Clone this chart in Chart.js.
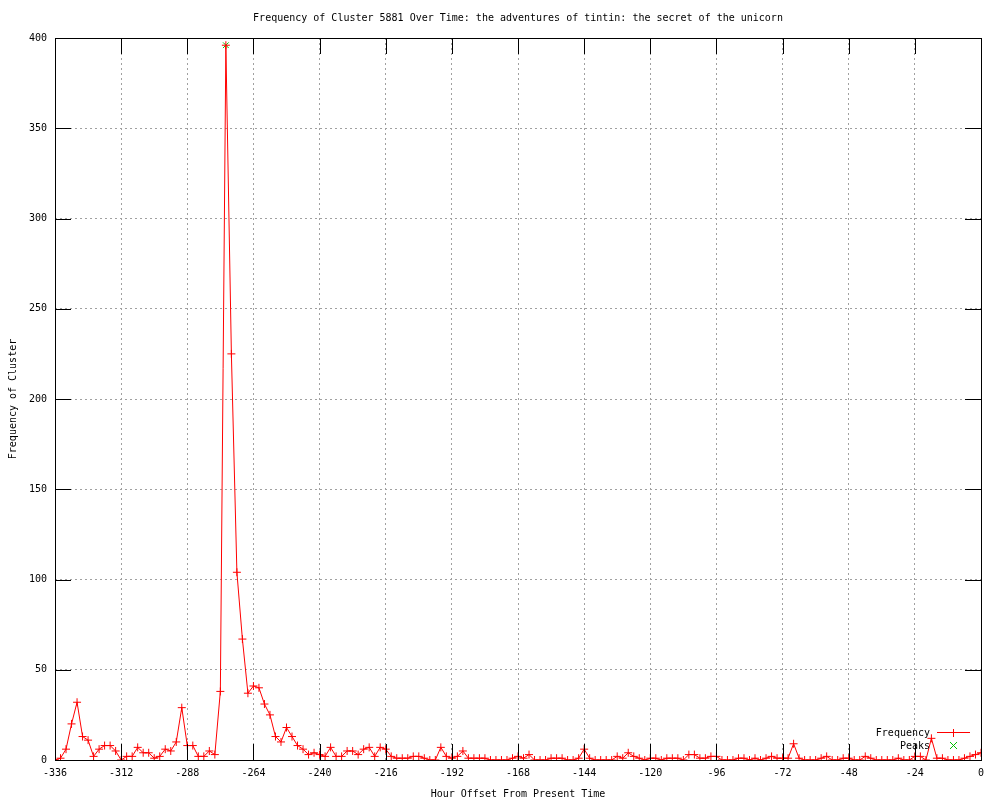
<!DOCTYPE html>
<html>
<head>
<meta charset="utf-8">
<script src="https://cdn.jsdelivr.net/npm/chart.js@4"></script>
<style>
  html, body { margin: 0; padding: 0; background: #fff; }
  #wrap { width: 1000px; height: 800px; }
</style>
</head>
<body>
<div id="wrap"><canvas id="chart" width="1000" height="800"></canvas></div>
<script>
// hour offsets, one point every 2 hours
const hourOffsets = [
    -336, -334, -332, -330, -328, -326, -324, -322, -320, -318, -316, -314,
    -312, -310, -308, -306, -304, -302, -300, -298, -296, -294, -292, -290,
    -288, -286, -284, -282, -280, -278, -276, -274, -272, -270, -268, -266,
    -264, -262, -260, -258, -256, -254, -252, -250, -248, -246, -244, -242,
    -240, -238, -236, -234, -232, -230, -228, -226, -224, -222, -220, -218,
    -216, -214, -212, -210, -208, -206, -204, -202, -200, -198, -196, -194,
    -192, -190, -188, -186, -184, -182, -180, -178, -176, -174, -172, -170,
    -168, -166, -164, -162, -160, -158, -156, -154, -152, -150, -148, -146,
    -144, -142, -140, -138, -136, -134, -132, -130, -128, -126, -124, -122,
    -120, -118, -116, -114, -112, -110, -108, -106, -104, -102, -100, -98,
    -96, -94, -92, -90, -88, -86, -84, -82, -80, -78, -76, -74,
    -72, -70, -68, -66, -64, -62, -60, -58, -56, -54, -52, -50,
    -48, -46, -44, -42, -40, -38, -36, -34, -32, -30, -28, -26,
    -24, -22, -20, -18, -16, -14, -12, -10, -8, -6, -4, -2,
    0
];

const frequency = [
    0, 1, 6, 20, 32, 13, 11, 2, 6, 8, 8, 5,
    0, 2, 2, 7, 4, 4, 1, 2, 6, 5, 10, 29,
    8, 8, 2, 2, 5, 3, 38, 396, 225, 104, 67, 37,
    41, 40, 31, 25, 13, 10, 18, 13, 8, 6, 3, 4,
    3, 2, 7, 2, 2, 5, 5, 3, 6, 7, 2, 7,
    6, 2, 1, 1, 1, 2, 2, 1, 0, 0, 7, 2,
    1, 2, 5, 1, 1, 1, 1, 0, 0, 0, 0, 1,
    2, 1, 3, 0, 0, 0, 1, 1, 1, 0, 0, 1,
    6, 1, 0, 0, 0, 0, 2, 1, 4, 2, 1, 0,
    1, 1, 0, 1, 1, 1, 0, 3, 3, 1, 1, 2,
    2, 0, 0, 0, 1, 1, 0, 1, 0, 1, 2, 1,
    1, 1, 9, 1, 0, 0, 0, 1, 2, 0, 0, 1,
    1, 0, 0, 2, 1, 0, 0, 0, 0, 1, 0, 0,
    2, 2, 0, 12, 1, 1, 0, 0, 0, 1, 2, 3,
    4
];

const peakHours = [-274];
const peakValues = [396];

const xTicks = [-336, -312, -288, -264, -240, -216, -192, -168, -144, -120, -96, -72, -48, -24, 0];
const yTicks = [0, 50, 100, 150, 200, 250, 300, 350, 400];

const titleText = 'Frequency of Cluster 5881 Over Time: the adventures of tintin: the secret of the unicorn';
const FONT = '"DejaVu Sans Mono", "Liberation Mono", monospace';
const RED = '#ff0000';
const GREEN = '#00c000';

// gnuplot-style frame, inward ticks, title and legend
const gnuplotDecor = {
    id: 'gnuplotDecor',
    afterDraw(chart) {
        const ctx = chart.ctx;
        const area = chart.chartArea;
        const xs = chart.scales.x;
        const ys = chart.scales.y;
        const tickLen = 16;

        ctx.save();
        ctx.strokeStyle = '#000';
        ctx.lineWidth = 1;
        ctx.strokeRect(Math.round(area.left) + 0.5, Math.round(area.top) + 0.5,
            Math.round(area.right - area.left), Math.round(area.bottom - area.top));

        ctx.beginPath();
        xTicks.forEach((v) => {
            const px = Math.round(xs.getPixelForValue(v)) + 0.5;
            ctx.moveTo(px, area.bottom);
            ctx.lineTo(px, area.bottom - tickLen);
            ctx.moveTo(px, area.top);
            ctx.lineTo(px, area.top + tickLen);
        });
        yTicks.forEach((v) => {
            const py = Math.round(ys.getPixelForValue(v)) + 0.5;
            ctx.moveTo(area.left, py);
            ctx.lineTo(area.left + tickLen, py);
            ctx.moveTo(area.right, py);
            ctx.lineTo(area.right - tickLen, py);
        });
        ctx.stroke();

        // title
        ctx.fillStyle = '#000';
        ctx.font = '10px ' + FONT;
        ctx.textAlign = 'center';
        ctx.textBaseline = 'middle';
        ctx.fillText(titleText, (area.left + area.right) / 2, 18);

        // legend
        ctx.textAlign = 'right';
        ctx.fillText('Frequency', 930, 733);
        ctx.fillText('Peaks', 930, 746);

        ctx.strokeStyle = RED;
        ctx.beginPath();
        ctx.moveTo(937, 732.5);
        ctx.lineTo(970, 732.5);
        ctx.moveTo(953.5, 729);
        ctx.lineTo(953.5, 737);
        ctx.stroke();

        ctx.strokeStyle = GREEN;
        ctx.beginPath();
        ctx.moveTo(950, 742);
        ctx.lineTo(957, 749);
        ctx.moveTo(957, 742);
        ctx.lineTo(950, 749);
        ctx.stroke();
        ctx.restore();
    },
};

new Chart(document.getElementById('chart'), {
    type: 'line',
    data: {
        datasets: [
            {
                label: 'Frequency',
                data: hourOffsets.map((h, i) => ({ x: h, y: frequency[i] })),
                borderColor: RED,
                backgroundColor: RED,
                borderWidth: 1,
                pointStyle: 'cross',
                pointRadius: 4,
                pointBorderWidth: 1,
                pointBorderColor: RED,
                tension: 0,
            },
            {
                label: 'Peaks',
                data: peakHours.map((h, i) => ({ x: h, y: peakValues[i] })),
                showLine: false,
                borderColor: GREEN,
                pointStyle: 'crossRot',
                pointRadius: 4,
                pointBorderWidth: 1,
                pointBorderColor: GREEN,
            },
        ],
    },
    options: {
        responsive: false,
        animation: false,
        layout: { padding: { top: 38, right: 19, left: 0, bottom: 0 } },
        plugins: {
            legend: { display: false },
            title: { display: false },
            tooltip: { enabled: false },
        },
        scales: {
            x: {
                type: 'linear',
                min: -336,
                max: 0,
                afterFit(scale) { scale.height = 40; },
                afterBuildTicks(scale) { scale.ticks = xTicks.map((v) => ({ value: v })); },
                grid: { color: '#a0a0a0', drawTicks: false },
                border: { display: false, dash: [2, 3] },
                ticks: { color: '#000', font: { family: FONT, size: 10 }, padding: 7, maxRotation: 0, autoSkip: false },
                title: {
                    display: true,
                    text: 'Hour Offset From Present Time',
                    color: '#000',
                    font: { family: FONT, size: 10 },
                    padding: { top: 3, bottom: 0 },
                },
            },
            y: {
                min: 0,
                max: 400,
                afterFit(scale) { scale.width = 55; },
                afterBuildTicks(scale) { scale.ticks = yTicks.map((v) => ({ value: v })); },
                grid: { color: '#a0a0a0', drawTicks: false },
                border: { display: false, dash: [2, 3] },
                ticks: { color: '#000', font: { family: FONT, size: 10 }, padding: 8 },
                title: {
                    display: true,
                    text: 'Frequency of Cluster',
                    color: '#000',
                    font: { family: FONT, size: 10 },
                    padding: { top: 7, bottom: 0 },
                },
            },
        },
    },
    plugins: [gnuplotDecor],
});
</script>
</body>
</html>
